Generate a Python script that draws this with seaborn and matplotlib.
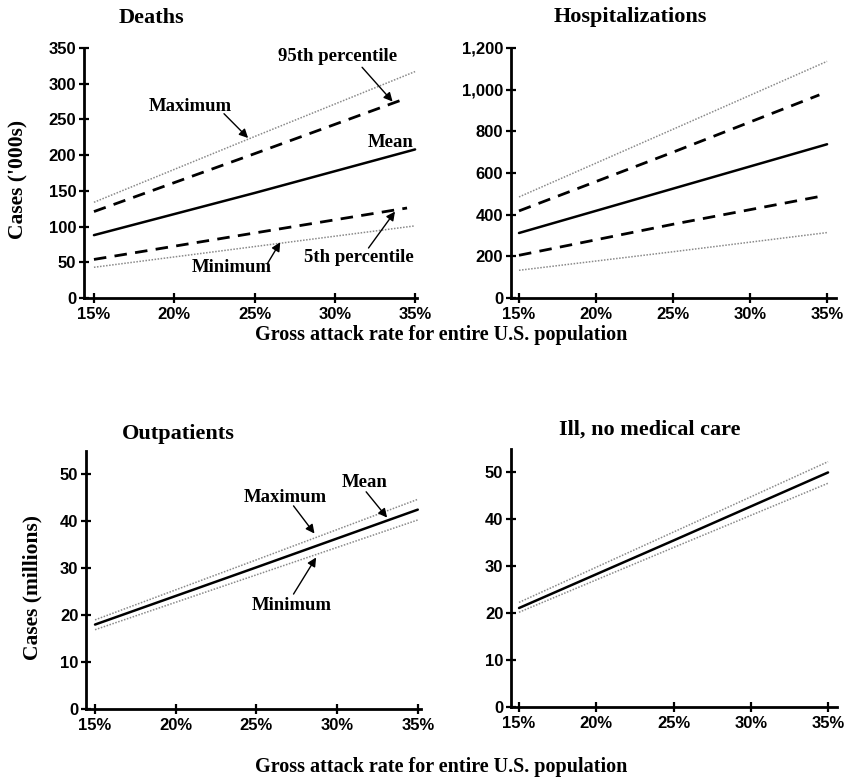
import numpy as np
import pandas as pd
import seaborn as sns
import matplotlib
matplotlib.use("Agg")
import matplotlib.pyplot as plt
from matplotlib.ticker import FuncFormatter, FixedLocator

# Gross attack rate (%) at which each scenario is evaluated
rate = [15, 25, 35]
pct_rate = [15, 25, 34.5]

# Deaths ('000s)
death_max = [134, 226, 317]
death_p95 = [121, 202, 280]
death_mean = [88, 147, 208]
death_p5 = [54, 91, 126]
death_min = [43, 72, 101]

# Hospitalizations ('000s)
hosp_max = [485, 810, 1136]
hosp_p95 = [418, 700, 975]
hosp_mean = [312, 525, 738]
hosp_p5 = [205, 354, 487]
hosp_min = [133, 222, 314]

# Outpatient visits (millions)
outp_max = [19.0, 31.8, 44.7]
outp_mean = [18.0, 30.2, 42.5]
outp_min = [16.9, 28.6, 40.3]

# Ill, no medical care (millions)
ill_max = [22.3, 37.3, 52.3]
ill_mean = [21.1, 35.5, 50.0]
ill_min = [20.2, 34.0, 47.7]

x_ticks = [15, 20, 25, 30, 35]
death_ticks = [0, 50, 100, 150, 200, 250, 300, 350]
hosp_ticks = [0, 200, 400, 600, 800, 1000, 1200]
million_ticks = [0, 10, 20, 30, 40, 50]

xlabel_text = "Gross attack rate for entire U.S. population"

sns.set_style("ticks")
SERIF = ["Liberation Serif", "DejaVu Serif"]
SANS = ["Liberation Sans", "DejaVu Sans"]
plt.rcParams["font.family"] = SANS
plt.rcParams["text.color"] = "black"

W, H = 847, 780
fig = plt.figure(figsize=(W / 100, H / 100), dpi=100)


def px_axes(left, top, right, bottom):
    return fig.add_axes([left / W, 1 - bottom / H, (right - left) / W, (bottom - top) / H])


DOT = dict(color="#8a8a8a", lw=1.1, linestyle=(0, (1, 1)))
DASH = dict(color="black", lw=2.0, linestyle=(0, (4.5, 3)))
SOLID = dict(color="black", lw=1.8, linestyle="-")


def draw(ax, xs, ys, style):
    sns.lineplot(x=xs, y=ys, ax=ax, errorbar=None, **style)


def style_axes(ax, xlim, ylim, yticks, yfmt):
    ax.set_xlim(*xlim)
    ax.set_ylim(*ylim)
    ax.xaxis.set_major_locator(FixedLocator(x_ticks))
    ax.yaxis.set_major_locator(FixedLocator(yticks))
    ax.xaxis.set_major_formatter(FuncFormatter(lambda v, p: f"{v:.0f}%"))
    ax.yaxis.set_major_formatter(FuncFormatter(yfmt))
    for s in ("top", "right"):
        ax.spines[s].set_visible(False)
    for s in ("left", "bottom"):
        ax.spines[s].set_linewidth(2.0)
        ax.spines[s].set_color("black")
    ax.tick_params(axis="both", direction="inout", length=7, width=1.6, colors="black")
    ax.tick_params(axis="x", pad=3)
    ax.tick_params(axis="y", pad=2)
    for lab in ax.get_xticklabels() + ax.get_yticklabels():
        lab.set_fontfamily(SANS)
        lab.set_fontweight("bold")
        lab.set_fontsize(12)
        lab.set_color("black")
    ax.set_xlabel("")
    ax.set_ylabel("")
    ax.patch.set_alpha(0)


ARROW = dict(arrowstyle="-|>", color="black", lw=1.0, mutation_scale=13, shrinkA=0, shrinkB=0)
TXT = dict(fontfamily=SERIF, fontweight="bold", fontsize=13.5, color="black",
           ha="center", va="center")


def label(ax, text, pos):
    ax.text(pos[0], pos[1], text, **TXT)


def arrow(ax, tail, tip):
    ax.annotate("", xy=tip, xytext=tail, arrowprops=ARROW)


# ---- Deaths ----
ax1 = px_axes(84, 48, 417, 298)
draw(ax1, rate, death_max, DOT)
draw(ax1, pct_rate, death_p95, DASH)
draw(ax1, rate, death_mean, SOLID)
draw(ax1, pct_rate, death_p5, DASH)
draw(ax1, rate, death_min, DOT)
style_axes(ax1, (14.38, 35.12), (0, 350), death_ticks, lambda v, p: f"{v:,.0f}")
label(ax1, "95th percentile", (30.2, 338))
arrow(ax1, (31.7, 323), (33.6, 275))
label(ax1, "Maximum", (21.0, 268))
arrow(ax1, (23.1, 258), (24.6, 224))
label(ax1, "Mean", (33.5, 218))
label(ax1, "5th percentile", (31.5, 56))
arrow(ax1, (32.1, 70), (33.75, 121))
label(ax1, "Minimum", (23.6, 42))
arrow(ax1, (25.8, 48), (26.6, 78))

# ---- Hospitalizations ----
ax2 = px_axes(511, 48, 836, 298)
draw(ax2, rate, hosp_max, DOT)
draw(ax2, pct_rate, hosp_p95, DASH)
draw(ax2, rate, hosp_mean, SOLID)
draw(ax2, pct_rate, hosp_p5, DASH)
draw(ax2, rate, hosp_min, DOT)
style_axes(ax2, (14.48, 35.58), (0, 1200), hosp_ticks, lambda v, p: f"{v:,.0f}")

# ---- Outpatients ----
ax3 = px_axes(86, 451, 421, 709)
draw(ax3, rate, outp_max, DOT)
draw(ax3, rate, outp_mean, SOLID)
draw(ax3, rate, outp_min, DOT)
style_axes(ax3, (14.44, 35.2), (0, 55), million_ticks, lambda v, p: f"{v:.0f}")
label(ax3, "Mean", (31.7, 48.2))
arrow(ax3, (31.8, 46.3), (33.1, 40.8))
label(ax3, "Maximum", (26.8, 45.0))
arrow(ax3, (27.3, 43.3), (28.6, 37.4))
label(ax3, "Minimum", (27.2, 22.0))
arrow(ax3, (27.3, 24.5), (28.7, 32.3))

# ---- Ill, no medical care ----
ax4 = px_axes(511, 449, 837, 707)
draw(ax4, rate, ill_max, DOT)
draw(ax4, rate, ill_mean, SOLID)
draw(ax4, rate, ill_min, DOT)
style_axes(ax4, (14.48, 35.58), (0, 55), million_ticks, lambda v, p: f"{v:.0f}")

# ---- Titles and shared labels ----
TITLE = dict(fontfamily=SERIF, fontweight="bold", fontsize=16, ha="center", va="center",
             color="black")
fig.text(151 / W, 1 - 18 / H, "Deaths", **TITLE)
fig.text(630 / W, 1 - 17 / H, "Hospitalizations", **TITLE)
fig.text(178 / W, 1 - 434 / H, "Outpatients", **TITLE)
fig.text(650 / W, 1 - 430 / H, "Ill, no medical care", **TITLE)

YLAB = dict(fontfamily=SERIF, fontweight="bold", fontsize=15.5, ha="center", va="center",
            rotation=90, color="black")
fig.text(18 / W, 1 - 179 / H, "Cases ('000s)", **YLAB)
fig.text(32 / W, 1 - 587 / H, "Cases (millions)", **YLAB)

XLAB = dict(fontfamily=SERIF, fontweight="bold", fontsize=14.5, ha="center", va="center",
            color="black")
fig.text(441 / W, 1 - 335 / H, xlabel_text, **XLAB)
fig.text(441 / W, 1 - 767 / H, xlabel_text, **XLAB)

fig.savefig("out.png", dpi=100, facecolor="white")
